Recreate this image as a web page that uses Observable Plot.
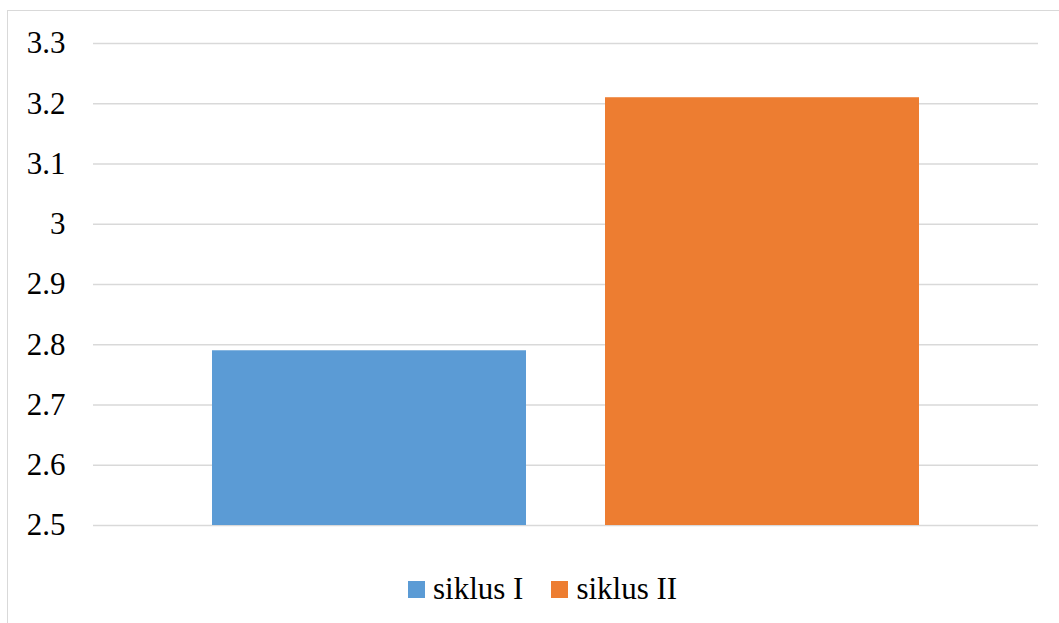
<!DOCTYPE html>
<html>
<head>
<meta charset="utf-8">
<script src="https://cdn.jsdelivr.net/npm/d3@7"></script>
<script src="https://cdn.jsdelivr.net/npm/@observablehq/plot@0.6"></script>
<style>
  html, body { margin: 0; padding: 0; background: #fff; }
  body { width: 1059px; height: 623px; position: relative; overflow: hidden; font-family: "Liberation Serif", "Times New Roman", serif; }
  #frame { position: absolute; left: 7px; top: 10px; width: 1100px; height: 700px; border: 1.5px solid #d9d9d9; box-sizing: border-box; }
  #chart { position: absolute; left: 0; top: 0; }
  #legend { position: absolute; left: 408px; top: 571px; display: flex; align-items: center; font-size: 31px; color: #000; white-space: nowrap; }
  .item { display: flex; align-items: center; }
  .item + .item { margin-left: 28px; }
  .sw { width: 17px; height: 17px; margin-right: 8px; }
</style>
</head>
<body>
<div id="frame"></div>
<div id="chart"></div>
<div id="legend"></div>
<script>
const categories = ["siklus I", "siklus II"];
const values = [2.79, 3.21];
const colors = ["#5b9bd5", "#ed7d31"];
const yTicks = [2.5, 2.6, 2.7, 2.8, 2.9, 3.0, 3.1, 3.2, 3.3];
const yBase = 2.5;

const data = categories.map((c, i) => ({ name: c, value: values[i] }));
const FONT = "'Liberation Serif', 'Times New Roman', serif";

const chart = Plot.plot({
  width: 1059,
  height: 550,
  marginLeft: 93,
  marginRight: 21,
  marginTop: 43,
  marginBottom: 25,
  style: { fontFamily: FONT, fontSize: "31px", color: "#000", background: "transparent", overflow: "visible" },
  x: { domain: categories, insetLeft: 118, insetRight: 118, paddingInner: 0.2, paddingOuter: 0, axis: null },
  y: { domain: [2.5, 3.3], axis: null },
  color: { domain: categories, range: colors },
  marks: [
    Plot.ruleY(yTicks, { stroke: "#d9d9d9", strokeWidth: 1.5 }),
    Plot.barY(data, { x: "name", y1: yBase, y2: "value", fill: "name" }),
    Plot.axisY(yTicks, { label: null, tickSize: 0, tickPadding: 28, tickFormat: d => String(+d.toFixed(1)), fontSize: 31, fontFamily: FONT, fill: "#000" })
  ]
});
document.getElementById("chart").appendChild(chart);

const legend = document.getElementById("legend");
categories.forEach((c, i) => {
  const item = document.createElement("div");
  item.className = "item";
  const sw = document.createElement("div");
  sw.className = "sw";
  sw.style.background = colors[i];
  const label = document.createElement("span");
  label.textContent = c;
  item.appendChild(sw);
  item.appendChild(label);
  legend.appendChild(item);
});
</script>
</body>
</html>
